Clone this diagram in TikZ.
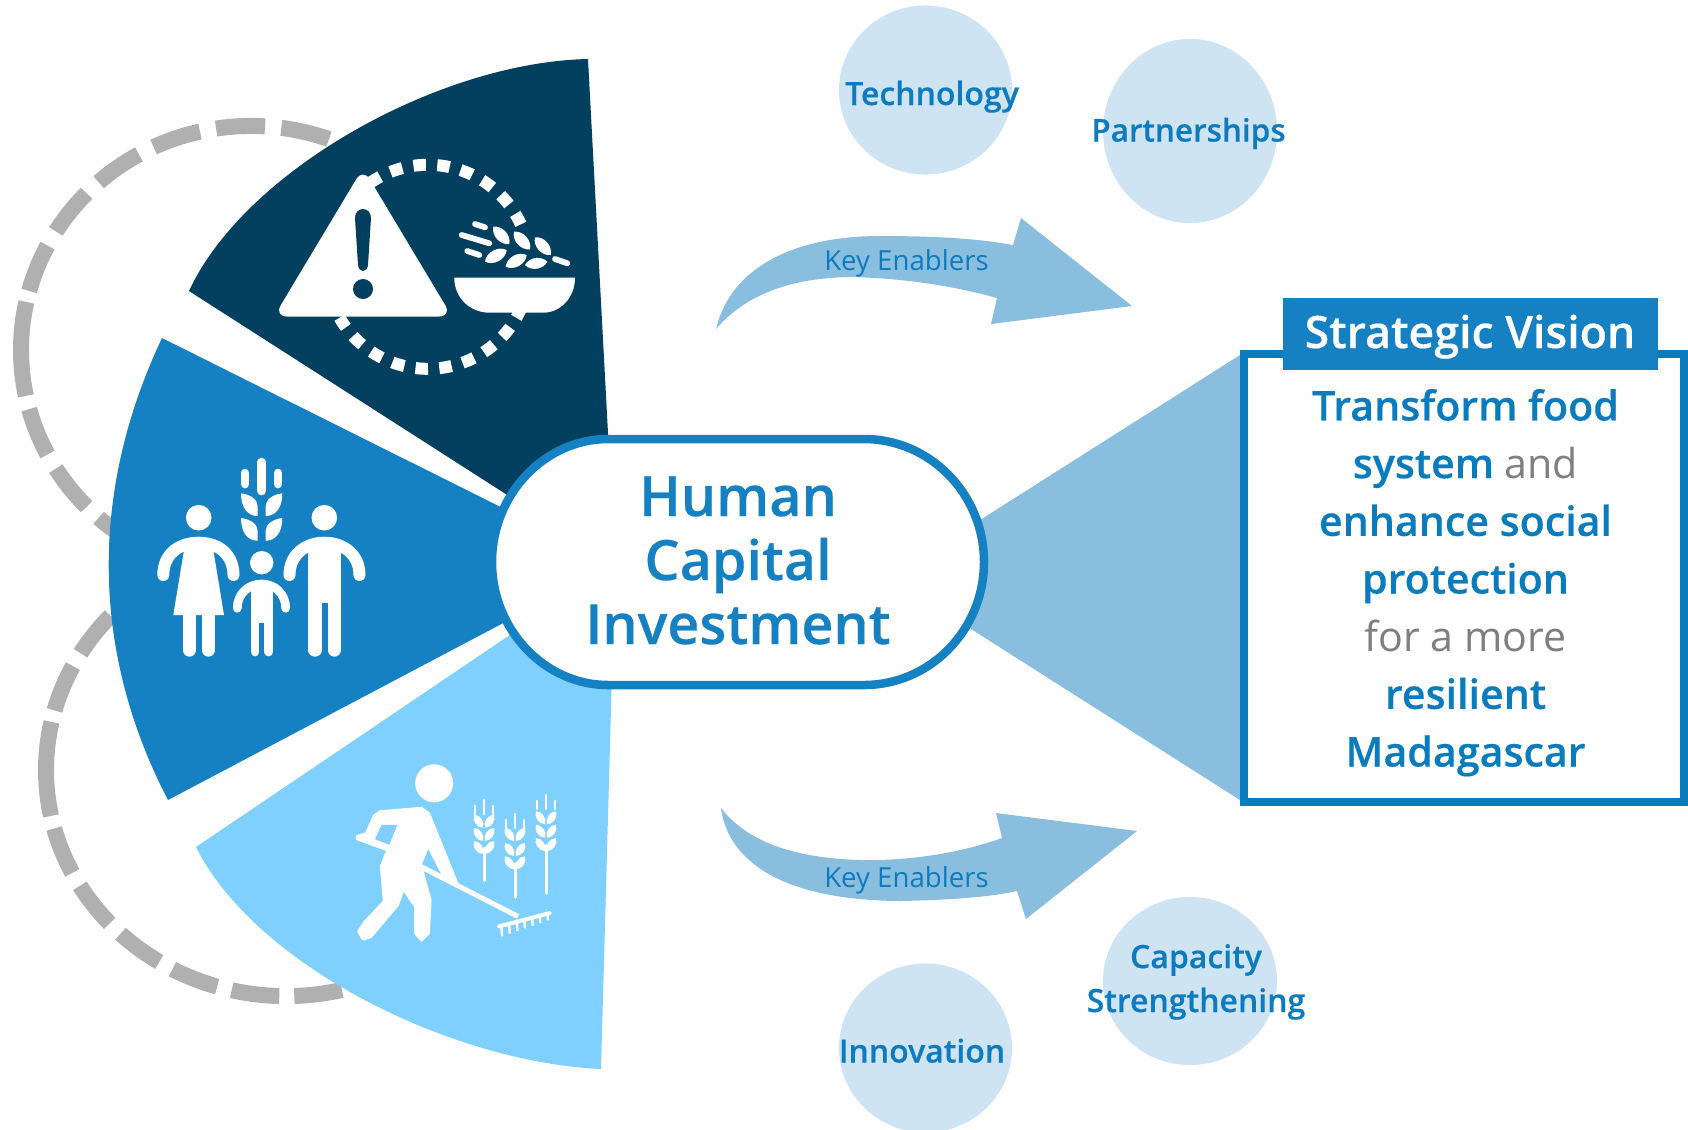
\documentclass[tikz,border=0pt]{standalone}
\usepackage{fontspec}
\setmainfont{Open Sans}[BoldFont={Open Sans Semibold},BoldFeatures={FakeBold=0.35}]
\definecolor{darkw}{HTML}{03405F}
\definecolor{midw}{HTML}{1580C2}
\definecolor{lightw}{HTML}{80D0FF}
\definecolor{ringgray}{HTML}{B0B0B0}
\definecolor{fanblue}{HTML}{8ABEDF}
\definecolor{circblue}{HTML}{CFE4F3}
\definecolor{boxblue}{HTML}{0A7BBD}
\definecolor{txtblue}{HTML}{0E7BBE}
\definecolor{txtgray}{HTML}{7F7F7F}
\tikzset{
  ringline/.style={draw=ringgray,line width=0.16cm},
  dotline/.style={draw=white,line width=0.12cm,dash pattern=on 0.125cm off 0.1135cm},
  grain/.style={draw=white,line width=0.058cm,line cap=round},
  limb/.style={draw=white,line cap=round},
  enabler/.style={font=\fontsize{7.85pt}{10pt}\selectfont,text=txtblue,inner sep=0pt,anchor=base},
  chip/.style={font=\bfseries\fontsize{9.1pt}{12.5pt}\selectfont,text=txtblue,inner sep=0pt,align=center,anchor=base},
}
\newcommand{\lensleaf}[4]{\fill[white] (#1,#2) to[bend left=55] (#3,#4) to[bend left=55] (#1,#2);}
\newcommand{\wheatleaf}[3]{\begin{scope}[shift={(#1,#2)},xscale=#3]\fill[white] (0,0) .. controls (9,1) and (16.7,6) .. (16.7,13) -- (16.7,22.7) .. controls (7,22.7) and (0,15) .. (0,0) -- cycle;\end{scope}}
\newcommand{\stalk}[6]{%
  \draw[limb,line width=0.03cm] (#1,#4) -- (#1,#5);
  \draw[limb,line width=0.026cm] (#1,#6) -- (#1,#6+14);
  \draw[limb,line width=0.026cm] (#1-9,#6+6) -- (#1-9,#6+14);
  \draw[limb,line width=0.026cm] (#1+9,#6+6) -- (#1+9,#6+14);
  \foreach \yy in {#2,#3,#4}{
    \lensleaf{#1-1}{\yy+6}{#1-10}{\yy-7}
    \lensleaf{#1+1}{\yy+6}{#1+10}{\yy-7}
  }}
\begin{document}
\begin{tikzpicture}[x=0.01cm,y=-0.01cm]
\clip (0,0) rectangle (1688,1129);
% dashed rings: each ring is a dashed loop whose joint gives one long dash at its far left
\coordinate (ua) at ({251+230*cos(164.7)},{350-224*sin(164.7)});
\coordinate (ub) at ({251+230*cos(167.6)},{350-224*sin(167.6)});
\coordinate (uc) at ({251+230*cos(195.3)},{350-224*sin(195.3)});
\coordinate (la) at ({286+240*cos(164.7)},{770-226*sin(164.7)});
\coordinate (lb) at ({286+240*cos(167.7)},{770-226*sin(167.7)});
\coordinate (lc) at ({286+240*cos(195)},{770-226*sin(195)});
\draw[ringline,dash pattern=on 0.49cm off 0.164cm] (ua) arc[start angle=164.7,end angle=62,x radius=2.30cm,y radius=2.24cm];
\draw[ringline] (ub) arc[start angle=167.6,end angle=191.8,x radius=2.30cm,y radius=2.24cm];
\draw[ringline,dash pattern=on 0.49cm off 0.164cm] (uc) arc[start angle=195.3,end angle=240,x radius=2.30cm,y radius=2.24cm];
\draw[ringline,dash pattern=on 0.48cm off 0.15cm] (la) arc[start angle=164.7,end angle=125,x radius=2.40cm,y radius=2.26cm];
\draw[ringline] (lb) arc[start angle=167.7,end angle=191.7,x radius=2.40cm,y radius=2.26cm];
\draw[ringline,dash pattern=on 0.48cm off 0.15cm] (lc) arc[start angle=195,end angle=290,x radius=2.40cm,y radius=2.26cm];
% wedges
\fill[darkw] (615,564) -- (189,291) .. controls (245,170) and (440,62) .. (588,59) -- cycle;
\fill[midw] (615,564) -- (162,338) .. controls (90,490) and (90,650) .. (168,800) -- cycle;
\fill[lightw] (615,564) -- (196,847) .. controls (255,965) and (450,1062) .. (601,1069) -- cycle;
% warning icon
\draw[dotline] (369.5,183.2) arc[start angle=125,end angle=24.6,radius=1.02cm];
\draw[dotline] (521.9,306.6) arc[start angle=-23,end angle=-150,radius=1.02cm];
\fill[white,rounded corners=0.13cm] (363,168) -- (274,316.5) -- (452,316.5) -- cycle;
\fill[darkw] (355,218) .. controls (355,206) and (371,206) .. (371,218) -- (368,265) .. controls (367,273) and (359,273) .. (358,265) -- cycle;
\fill[darkw] (363,289) circle[radius=0.1cm];
\fill[white] (454.3,277.7) -- (575,277.7) .. controls (575,298) and (560,312.7) .. (543,312.7) -- (490,312.7) .. controls (470,312.7) and (454.3,298) .. (454.3,277.7) -- cycle;
\draw[grain] (475,224) -- (485,227.3);
\draw[grain] (461.7,235) -- (489.3,243.3);
\draw[grain] (467.3,251) -- (479.3,255);
\draw[grain] (555,259) -- (567.3,263.3);
\lensleaf{493.3}{226.7}{509.3}{244}
\lensleaf{514}{231.7}{530}{249.3}
\lensleaf{535}{237.3}{550.7}{255}
\lensleaf{485}{261.7}{506.7}{250}
\lensleaf{505.7}{266.7}{526.7}{255}
\lensleaf{525}{265}{547.3}{261.7}
% family icon
\draw[limb,line width=0.087cm] (261.7,462) -- (261.7,491);
\draw[limb,line width=0.087cm] (245,473) -- (245,484);
\draw[limb,line width=0.087cm] (278,473) -- (278,484);
\wheatleaf{241}{493.3}{1}
\wheatleaf{282.3}{493.3}{-1}
\wheatleaf{241}{518}{1}
\wheatleaf{282.3}{518}{-1}
\fill[white] (198.7,517.7) circle[radius=0.128cm];
\draw[limb,line width=0.12cm] (163.3,575) .. controls (163.3,555) and (178,542.7) .. (198.7,542.7) .. controls (219,542.7) and (233.5,555) .. (233.5,575);
\fill[white] (185.7,540) -- (211.7,540) -- (224,615) -- (173.3,615) -- cycle;
\draw[limb,line width=0.133cm] (189.3,610) -- (189.3,650);
\draw[limb,line width=0.133cm] (208.3,610) -- (208.3,650);
\fill[white] (324.3,517.7) circle[radius=0.128cm];
\draw[limb,line width=0.12cm] (289.5,575) .. controls (289.5,555) and (305,542.7) .. (324.3,542.7) .. controls (344,542.7) and (359.5,555) .. (359.5,575);
\fill[white] (308.3,540) rectangle (341,603);
\draw[limb,line width=0.133cm] (315,600) -- (315,650);
\draw[limb,line width=0.133cm] (334.3,600) -- (334.3,650);
\fill[white] (261.7,562.7) circle[radius=0.117cm];
\draw[limb,line width=0.087cm] (237.3,608.3) .. controls (237.3,594) and (248,584) .. (261.7,584) .. controls (275,584) and (285.7,594) .. (285.7,608.3);
\fill[white] (250.7,584) rectangle (273.3,623);
\draw[limb,line width=0.087cm] (255,620) -- (255,652);
\draw[limb,line width=0.087cm] (268.7,620) -- (268.7,652);
% farmer icon
\begin{scope}[shift={(340,750)},x=0.003333cm,y=-0.003333cm]
\fill[white] (283,100) circle[radius=0.19cm];
\filldraw[white,line width=0.035cm,line join=round] (52,260) -- (80,252) -- (104,198) -- (122,186) -- (245,176) -- (266,192) -- (352,405) -- (240,350) -- (245,362) -- (270,450) -- (265,550) -- (245,570) -- (228,550) -- (228,470) -- (190,415) -- (172,465) -- (92,560) -- (70,567) -- (57,545) -- (75,518) -- (134,455) -- (125,350) -- (145,300) -- (52,266) -- cycle;
\fill[lightw] (125,225) -- (172,225) -- (148,285) -- (105,268) -- cycle;
\fill[lightw] (265,298) -- (247,343) -- (303,372) -- cycle;
\draw[white,line width=0.05cm] (245,352) -- (535,500);
\draw[white,line width=0.04cm,line cap=round] (478,530) -- (630,490);
\foreach \i in {0,...,6}{
  \draw[white,line width=0.024cm] (485+\i*23,528-\i*6) -- (487+\i*23,560-\i*6-\i*2);
}
\end{scope}
\stalk{484}{821.7}{835}{848}{880.7}{800}
\stalk{515}{835}{850}{863.3}{897}{814}
\stalk{546}{818.3}{831.7}{845}{893}{795}
% fan and box
\fill[fanblue] (980,520) -- (1240,355) -- (1240,800) -- (971,629) -- cycle;
\fill[white,draw=midw,line width=0.085cm] (608,439) -- (864,439) .. controls (930,439) and (984,494) .. (984,562) .. controls (984,630) and (930,685) .. (864,685) -- (608,685) .. controls (545,685) and (492,630) .. (492,562) .. controls (492,494) and (545,439) .. (608,439) -- cycle;
\fill[white,draw=boxblue,line width=0.075cm] (1244,354) rectangle (1684,802);
\fill[midw] (1283,298) rectangle (1658,370);
% enabler circles
\fill[circblue] (925.5,90) ellipse[x radius=0.865cm,y radius=0.845cm];
\fill[circblue] (1190,131) ellipse[x radius=0.87cm,y radius=0.92cm];
\fill[circblue] (1190,981) ellipse[x radius=0.87cm,y radius=0.84cm];
\fill[circblue] (925.5,1048) ellipse[x radius=0.865cm,y radius=0.845cm];
% curved arrows
\fill[fanblue] (716,329) .. controls (730,270) and (790,236) .. (880,236) .. controls (930,236) and (975,238) .. (1013,245) -- (1021,218) -- (1132,306) -- (991,324) -- (997,298) .. controls (950,285) and (900,278) .. (850,277) .. controls (790,278) and (745,295) .. (716,329) -- cycle;
\fill[fanblue] (721,808) .. controls (728,860) and (780,900) .. (900,901) .. controls (950,900) and (990,897) .. (1017,891) -- (1026,919) -- (1137,831) -- (996,813) -- (1002,838) .. controls (960,853) and (910,861) .. (860,860) .. controls (800,858) and (750,845) .. (721,808) -- cycle;
% texts
\node[enabler] (keyup) at (906.5,270.5) {Key Enablers};
\node[enabler] (keydown) at (906.5,887) {Key Enablers};
\node[chip] (tech) at (932,105) {Technology};
\node[chip,font=\bfseries\fontsize{8.95pt}{11.8pt}\selectfont] (partner) at (1188.5,141.5) {Partnerships};
\node[chip] (capacity) at (1196,1012) {Capacity\\Strengthening};
\node[chip] (innov) at (922,1062.5) {Innovation};
\node[font=\bfseries\fontsize{15.8pt}{18.2pt}\selectfont,text=midw,align=center,inner sep=0pt,anchor=base] (hci) at (738,644) {Human\\Capital\\Investment};
\node[font=\bfseries\fontsize{12.7pt}{14pt}\selectfont,text=white,inner sep=0pt,anchor=base] (sv) at (1470,348) {Strategic Vision};
\node[font=\fontsize{11.7pt}{16.4pt}\selectfont,text=txtgray,align=center,inner sep=0pt,anchor=base] (body) at (1465.5,766.5) {\textcolor{boxblue}{\bfseries Transform food}\\\textcolor{boxblue}{\bfseries system} and\\\textcolor{boxblue}{\bfseries enhance social}\\\textcolor{boxblue}{\bfseries protection}\\for a more\\\textcolor{boxblue}{\bfseries resilient}\\\textcolor{boxblue}{\bfseries Madagascar}};
\end{tikzpicture}
\end{document}
